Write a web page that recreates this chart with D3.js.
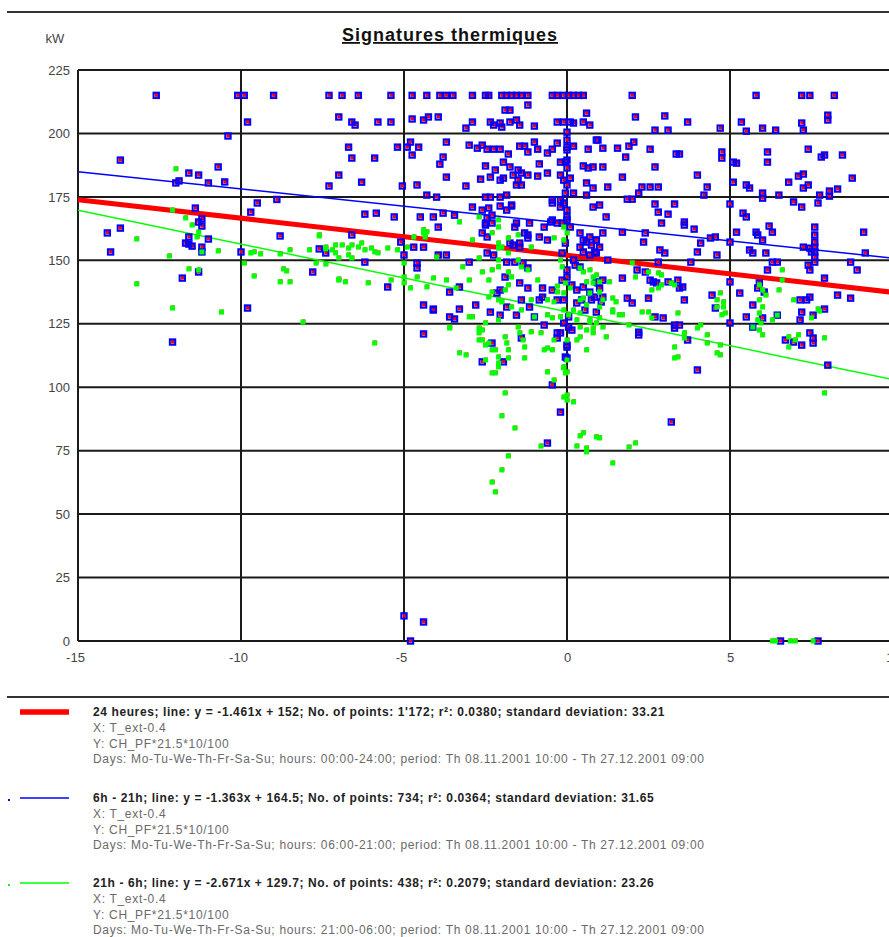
<!DOCTYPE html>
<html lang="fr">
<head>
<meta charset="utf-8">
<title>Signatures thermiques</title>
<script src="https://cdn.jsdelivr.net/npm/d3@7/dist/d3.min.js"></script>
<style>
  body { margin: 0; background: #fff; }
  text { font-family: "Liberation Sans", Arial, sans-serif; }
</style>
</head>
<body>
<svg id="chart" width="889" height="937"></svg>
<script>
// ---- data ----
var xTicks = [-15, -10, -5, 0, 5, 10];
var yTicks = [0, 25, 50, 75, 100, 125, 150, 175, 200, 225];

// 6h - 21h, [T_ext, kW]
var dayPoints = [
  [-12.6,215],[-10.1,215],[-9.9,215],[-9.0,215],[-7.3,215],[-6.9,215],[-6.4,215],[-5.4,215],[-4.75,215],[-4.3,215],
  [-3.9,215],[-3.7,215],[-3.5,215],[-2.9,215],[-2.5,215],[-2.4,215],[-2.0,215],[-1.85,215],[-1.7,215],[-1.55,215],
  [-1.4,215],[-1.2,215],[-0.45,215],[-0.3,215],[-0.1,215],[0.05,215],[0.2,215],[0.35,215],[0.5,215],[2.0,215],
  [5.8,215],[7.2,215],[7.45,215],[8.2,215],
  [-1.2,211.2],[-1.9,209.2],[-1.75,209.2],[0.6,208],[-7.0,206.5],[-6.6,204.5],[-6.5,203.3],[-5.8,204.5],[-5.4,204.5],
  [-4.75,205.7],[-4.4,205.3],[-4.25,206.5],[-3.95,206.5],[-3.1,202.1],[-2.9,204.5],[-2.35,204.5],[-2.25,203.3],
  [-2.05,204.1],[-2.0,202.5],[-1.75,204.5],[-1.55,205.3],[-1.45,203.3],[-1.0,202.9],[-0.3,204.5],[-0.1,204.5],
  [0.1,204.5],[0.2,204.1],[0.5,204.5],[0.7,203.3],[0.0,200.5],
  [-6.7,194.6],[-5.2,194.6],[-4.9,194.6],[-4.8,196.6],[-4.55,194.6],[-3.7,196.6],[-3.0,195.4],[-2.75,194.2],
  [-2.6,195.4],[-2.45,193.8],[-2.25,193.8],[-2.05,193.8],[-1.8,191.9],[-1.45,195.0],[-1.3,195.0],[-1.2,192.7],
  [-1.0,196.6],[-0.9,193.8],[-0.6,192.3],[-0.45,193.8],[-0.3,196.2],[0.0,194.6],[0.2,195.0],[0.65,193.8],[0.9,197.4],
  [-6.6,190.3],[-5.9,190.3],[-4.75,191.5],[-3.8,190.7],[-3.9,187.9],[-2.5,187.2],[-2.2,185.6],[-1.95,188.7],
  [-1.75,186.8],[-1.5,185.6],[-1.4,184.4],[-1.2,183.6],[-0.85,188.0],[-0.6,184.4],[-0.2,188.7],[-0.05,188.7],
  [0.5,187.2],[0.65,186.4],[0.8,186.8],[-7.0,183.6],[-6.3,180.8],[-7.3,179.3],[-5.05,179.3],[-4.6,179.7],
  [-3.7,182.8],[-3.1,179.3],[-2.65,182.0],[-2.35,182.8],[-2.05,181.6],[-1.95,182.4],[-1.65,183.6],[-1.5,181.6],
  [-1.55,179.7],[-1.4,179.7],[-0.9,183.2],[-0.2,183.6],[-0.1,181.6],[0.1,182.4],[0.6,180.5],[0.8,178.5],
  [-4.3,175.7],[-4.0,174.9],[-2.5,174.9],[-2.35,174.9],[-2.05,174.9],[-1.85,175.7],[-0.45,173.8],[-0.2,173.8],
  [0.2,176.5],[0.6,175.7],[-6.2,168.2],[-5.85,168.6],[-5.3,167.1],[-4.5,167.1],[-4.1,167.1],[-3.8,168.6],
  [-3.45,167.8],[-2.9,171.0],[-2.6,169.8],[-2.4,170.6],[-2.5,164.7],[-2.3,164.7],[-2.05,171.4],[-1.7,171.4],
  [-1.55,164.7],[-1.15,164.7],[-2.6,160.8],[-2.45,159.2],[-1.75,156.8],[-1.45,156.8],[-1.2,160.0],[-0.45,172.6],
  [-0.2,171.0],[-0.45,165.9],[0.0,167.1],[0.1,163.1],[0.4,160.8],[0.6,157.2],[0.75,156.0],[0.9,158.0],
  [-6.6,160.0],[-5.1,157.2],[-4.7,155.2],[-3.95,163.1],
  [3.0,206.9],[2.1,206.5],[3.7,204.5],[2.7,201.3],[3.1,201.3],[4.7,202.1],[5.35,204.5],[5.5,200.9],[6.0,202.1],
  [6.4,201.3],[7.2,204.1],[7.25,201.3],[8.0,207.2],[8.0,205.3],[0.95,197.4],[1.1,194.2],[1.55,194.2],[1.9,195.0],
  [2.05,196.6],[2.55,193.8],[3.35,191.9],[3.45,191.9],[1.8,190.7],[4.75,192.7],[4.75,190.3],[5.1,188.7],[5.2,188.3],
  [6.15,192.7],[6.15,188.7],[7.4,193.8],[7.8,190.7],[7.9,191.5],[8.45,191.5],[1.1,186.8],[2.7,186.8],[1.7,182.8],
  [4.0,183.6],[5.1,180.8],[6.8,180.8],[7.1,183.2],[7.25,184.0],[8.75,182.4],[1.25,178.9],[2.3,178.9],[2.55,178.9],
  [2.8,178.9],[2.2,176.5],[4.3,178.9],[4.2,175.7],[5.5,179.7],[5.6,178.5],[6.0,176.5],[6.0,174.5],[6.5,175.7],
  [7.25,178.5],[7.4,179.7],[7.75,175.7],[8.05,177.3],[8.05,175.3],[8.3,178.1],[6.95,173.0],[7.2,171.0],[7.7,172.6],
  [1.85,174.1],[2.0,174.1],[2.7,172.2],[3.3,172.2],[2.8,169.0],[3.1,168.2],[1.2,167.1],[5.4,168.6],[5.5,167.1],
  [5.0,172.2],[0.8,171.0],[1.0,171.8],[2.9,164.7],[3.6,165.1],[3.6,163.9],[3.9,162.3],[5.2,161.1],[5.8,161.1],
  [5.85,160.0],[6.0,158.0],[6.2,163.5],[6.3,161.1],[7.6,163.1],[7.6,160.0],[7.6,157.2],[7.6,155.2],[7.5,153.3],
  [9.1,161.1],[2.35,157.2],[2.85,154.1],[3.0,152.9],[4.1,156.8],[4.55,159.2],[4.4,158.8],[5.0,157.2],[5.6,154.1],
  [5.7,152.9],[6.1,152.9],[7.25,155.2],[7.45,154.8],[7.6,153.3],[4.0,153.3],[0.85,153.3],[1.1,160.8],[1.7,161.1],
  [9.15,152.9],[4.6,152.1],[7.6,151.3],[7.6,149.3],[2.4,160.8],[1.25,150.1],[3.8,149.3],[2.8,149.3],
  [5.0,141.5],[5.3,137.1],[5.9,141.1],[5.85,139.1],[6.05,137.5],[6.15,146.2],[6.3,149.3],[6.45,149.3],[7.4,148.1],
  [7.45,146.2],[8.7,149.3],[8.9,146.2],[7.9,143.0],[8.3,136.3],[8.7,135.1],[7.45,135.5],[7.15,134.4],[7.35,134.4],
  [7.9,130.8],[7.55,128.4],[7.2,129.6],[7.15,126.5],[6.45,128.4],[5.7,132.4],[5.5,127.7],[6.0,127.3],[5.7,123.7],
  [7.45,121.4],[7.55,119.4],[7.55,117.4],[7.2,116.6],[6.95,117.8],[6.7,118.6],[4.0,106.8],[8.0,108.7],[4.45,136.3],
  [4.55,131.2],[5.0,125.3],[3.6,134.4],[3.7,118.6],[2.2,121.7],[2.2,120.6],[2.0,133.2],[1.85,135.1],[2.5,135.1],
  [2.7,127.7],[2.95,127.3],[3.45,124.5],[2.55,142.2],[2.65,141.5],[2.75,141.1],[2.4,145.4],[2.15,146.2],[3.1,141.5],
  [3.4,142.2],[3.55,139.5],[3.45,139.1],[1.7,143.0],[0.9,141.5],[1.0,139.1],[1.1,135.5],[3.3,124.5],[3.3,123.3],
  [-0.05,156.8],[-0.15,152.9],[0.0,146.2],[-0.15,142.2],[-0.1,134.4],[0.05,127.7],[-0.1,125.3],[0.0,116.6],
  [-0.05,111.9],[0.0,169.8],[-0.1,172.6],[0.0,165.9],[-0.15,164.7],[0.0,179.7],[-0.05,176.5],[0.0,189.5],
  [0.0,197.4],[0.0,193.5],[0.0,186.4],
  [0.5,158.0],[0.7,159.2],[0.9,158.0],[1.0,155.2],[0.9,152.9],[0.7,152.1],[0.5,153.3],[0.4,155.2],
  [0.2,150.1],[0.25,148.1],[0.4,147.4],[0.0,143.4],[0.15,140.3],[0.3,138.3],[0.5,139.5],[0.7,137.5],[0.85,135.5],
  [0.95,141.1],[1.1,142.2],[0.3,133.2],[0.45,134.4],[0.75,134.4],[1.05,133.6],[0.55,130.4],[0.9,129.6],
  [-6.2,149.3],[-5.5,139.5],[-5.0,152.1],[-4.6,148.9],[-4.6,147.0],[-4.4,155.2],[-3.95,152.1],[-3.7,152.1],
  [-4.4,132.4],[-4.1,130.8],[-3.3,130.8],[-3.6,127.7],[-3.45,126.9],[-4.4,121.0],[-3.0,149.3],[-3.6,137.5],
  [-3.3,139.5],[-2.8,132.4],[-2.35,129.6],[-2.45,152.9],[-2.25,152.1],[-2.5,163.9],[-2.45,166.7],[-2.3,167.8],
  [-1.85,169.8],[-1.7,171.8],[-1.6,163.1],[-1.3,160.8],[-1.2,158.8],[-1.65,156.0],[-1.45,155.2],[-1.85,149.3],
  [-1.6,149.3],[-1.35,148.9],[-1.2,147.0],[-1.9,143.4],[-1.45,141.1],[-1.2,139.1],[-2.05,138.3],[-2.15,137.1],
  [-1.85,131.6],[-1.4,134.4],[-1.15,131.6],[-2.05,128.4],[-1.55,128.4],[-1.0,127.7],[-0.75,135.5],[-0.85,134.4],
  [-0.75,139.1],[-0.45,138.3],[-0.3,134.4],[-0.3,121.4],[-0.3,119.4],[-0.7,124.5],[-2.3,117.4],[-2.6,110.0],
  [-1.95,110.0],[-1.4,119.4],[-0.7,163.1],[-0.5,165.1],[-0.3,164.7],[-0.85,159.2],[-0.6,158.0],[-0.2,121.4],
  [0.05,123.7],[0.15,122.5],[0.0,115.8],[0.0,111.5],[-4.1,130.4],[-0.45,100.9],[-0.2,90.2],[-0.6,78.0],[3.2,86.3],
  [-5.0,9.9],[-4.4,7.5],[-4.8,0],[6.55,0],[7.7,0],
  [-13.7,189.5],[-11.6,184.4],[-11.3,183.6],[-10.7,186.8],[-10.5,180.9],[-11.0,180.5],[-12.0,180.5],[-11.9,181.3],
  [-11.4,170.6],[-11.2,166.3],[-11.3,165.1],[-11.2,163.5],[-13.7,162.7],[-14.1,160.8],[-11.0,158.4],[-11.6,159.2],
  [-11.7,156.8],[-11.6,156.4],[-11.5,155.6],[-11.2,155.2],[-11.2,153.3],[-14.0,153.3],[-11.8,143.0],[-11.3,145.4],
  [-9.5,172.6],[-9.7,169.0],[-8.9,174.0],[-8.8,159.6],[-7.6,154.5],[-7.4,152.9],[-10.0,153.3],[-7.8,145.4],
  [-9.8,131.2],[-10.4,199.0],[-9.8,204.5],[-12.1,117.8]
];

// 21h - 6h, [T_ext, kW]
var nightPoints = [
  [-12.0,186],[-12.1,169.8],[-11.7,166.7],[-11.5,163.9],[-11.3,161.1],[-11.35,159.2],[-13.2,158.4],[-10.7,153.7],
  [-11.2,153.3],[-12.2,151.7],[-11.6,146.6],[-11.3,146.2],[-13.2,140.7],[-12.1,131.2],[-10.6,129.6],[-9.9,148.9],
  [-9.7,152.9],[-9.6,153.3],[-9.4,152.5],[-8.8,152.5],[-8.5,154.1],[-7.9,154.1],[-7.4,155.2],[-7.2,154.1],
  [-7.1,152.9],[-7.6,159.6],[-7.7,148.9],[-7.4,148.5],[-9.6,143.8],[-8.8,141.5],[-8.5,141.5],[-8.7,146.6],
  [-8.6,145.8],[-8.1,125.7],[-7.0,142.6],
  [-7.6,160],[-7.4,154.5],[-7.1,156],[-6.9,156],[-6.7,154.8],[-6.6,156],[-6.4,155.2],[-6.3,156.8],[-6.2,154.1],
  [-6.0,154.8],[-5.9,153.3],[-5.8,152.9],[-6.7,152.1],[-6.6,150.9],[-7.0,150.9],[-7.0,142.2],[-6.8,141.5],
  [-6.1,141.1],[-5.9,117.4],[-5.5,154.8],[-5.2,154.1],[-5.0,148.9],[-4.9,155.2],[-4.4,160.8],[-4.3,161.2],
  [-4.35,159.2],[-4.4,162],[-4.7,159.2],[-5.0,143.4],[-4.8,139.1],[-5.0,141.1],[-5.4,142.2],[-4.6,143.4],
  [-4.3,139.5],[-4.1,143],[-4.0,151.3],[-3.7,142.2],[-3.4,139.1],[-3.2,147.4],[-2.9,158],[-2.7,150.9],[-2.6,145.4],
  [-3.0,142.2],[-2.9,127.7],[-3.6,123.7],[-2.5,125.3],[-2.6,122.5],[-2.7,118.6],[-2.5,116.6],[-2.3,114.7],
  [-2.1,111.9],[-2.1,109.5],[-2.3,105.6],[-1.9,119.8],[-1.3,111.5],[-1.3,115.8],[-1.5,123.7],[-1.1,121.8],
  [-0.8,121.4],[-0.6,115.4],[-1.0,127.7],[-2.1,126.5],[-2.4,142.2],[-2.3,137.5],[-2.4,135.5],[-2.1,134.4],
  [-2.0,133.6],[-1.9,138.3],[-1.8,140.3],[-2.3,146.2],[-2.1,147.4],[-1.8,145.4],[-1.7,143.4],[-2.1,150.1],
  [-1.8,152.9],[-1.5,150.1],[-1.4,147.4],[-1.2,146.2],[-2.1,165.9],[-2.1,163.1],[-2.3,160.8],[-2.0,155.2],
  [-2.1,156.8],[-2.1,154.8],[-0.9,142.2],[-1.1,134.4],[-1.4,130.4],[-1.7,131.6],[-0.6,134.4],[-0.4,133.6],
  [-0.6,128.5],[-0.45,127.3],[-0.3,139.8],[-0.3,137.5],[-1.8,158.8],[-1.5,160],[-3.3,165.1],[-2.7,167.1],
  [-0.4,158.8],[-0.2,150.1],[-1.1,155.2],
  [-3.6,123.3],[-2.7,121.4],[-2.6,118.6],[-2.2,114.7],[-2.4,117.4],[-1.85,117.4],[-1.8,114.7],[-1.45,121.4],
  [-1.35,118.6],[-1.8,111.5],[-2.1,108],[-2.2,105.6],[-2.5,110.7],[-0.4,118.6],[0.0,118.6],[-0.1,107.6],[0.0,106],
  [-0.7,114.7],[-0.45,114.7],[-0.6,106],[-0.4,102.8],[0.9,80.4],[0.3,118.6],[0.4,119.8],[0.8,121.4],[0.6,114.7],
  [1.2,119.8],[1.0,127.3],[1.7,128.5],[1.4,129.6],[0.3,126.5],[0.7,125.7],[1.0,131.6],[1.1,134.4],[0.5,135.1],
  [-0.2,127.7],[-3.0,127.7],[-3.3,113.5],[-3.1,112.7],[-2.7,123.3],
  [-1.9,97.7],[-0.1,96.1],[0.0,94.9],[0.2,94.2],[0.0,96.9],[-2.0,88.7],[-1.6,83.9],[-0.8,76.8],[0.5,82],[0.4,80.8],
  [1.0,80],[0.3,76.8],[0.6,76],[0.6,74.5],[1.4,70.1],[1.9,76.4],[2.1,78],[-1.8,72.9],[-2.0,67.4],[-2.3,62.6],
  [-2.2,58.7],[7.9,97.7],[6.3,0],[6.4,0],[6.85,0],[7.0,0],[7.55,0],
  [-0.1,163.1],[0.0,160.8],[-0.1,158],[-0.15,147.4],[-0.05,141.1],[0.1,139.1],[-0.1,137.1],[-0.1,130.4],
  [0.05,128.5],[0.0,110.7],[-0.1,108],[-0.05,105.6],[0.4,147],[0.5,145.4],[0.7,146.2],[0.8,143.4],[0.9,144.2],
  [0.6,141.5],[0.8,141.1],[1.0,141.5],[0.7,137.1],[1.0,137.5],[0.4,134.4],[0.6,132.4],[0.2,130.4],[0.4,129.2],
  [1.4,130.4],[1.6,128.5],[0.7,126.5],[0.9,125.3],[1.1,123.7],[0.4,123.7],[0.6,122.5],[0.8,123.3],[1.3,141.5],
  [2.1,143.4],[2.6,138.3],[2.8,139.1],[2.9,140.3],[2.3,129.6],[2.5,129.6],[3.4,129.2],[1.9,124.5],[2.0,149],
  [2.5,145.4],[2.8,145],[2.9,144.2],[3.6,121.4],[4.0,123.3],[4.1,124.5],[4.7,137.1],[4.6,134.4],[4.8,133.6],
  [4.6,131.6],[4.8,131.6],[4.85,129.2],[4.75,128.5],[5.9,140.3],[6.0,138.3],[6.1,136.3],[5.9,134.4],[6.0,131.6],
  [5.9,129.2],[5.95,125.3],[5.9,122.5],[6.0,120.6],[5.85,126.5],[5.7,123.7],[6.45,128.4],[6.3,126.5],[6.6,146.2],
  [6.6,142.2],[6.5,138.3],[6.95,134.4],[7.5,127.3],[7.7,130.8],[7.75,130],[6.8,119.8],[7.0,118.6],[7.1,120.6],
  [7.9,119.4],[6.8,115.8],[3.3,115.8],[3.4,111.9],[3.3,111.5],[3.6,119.4],[4.3,120.6],[4.6,113.5],[4.7,112.7],
  [4.3,117.4],[4.7,116.6],[1.4,135.1],[1.5,133.6],[3.2,141.1],[3.3,140.3],[2.6,127.3]
];

// regression lines: y = slope * x + intercept
var seriesNames = ["24h", "day", "night"];
var slopes = [-1.461, -1.363, -2.671];
var intercepts = [152, 164.5, 129.7];
var seriesColors = ["#ff0000", "#0000ff", "#00ff00"];
var lineWidths = [5, 1.5, 1.5];

var legendTitles = [
  "24 heures; line: y = -1.461x + 152; No. of points: 1'172; r\u00b2: 0.0380; standard deviation: 33.21",
  "6h - 21h; line: y = -1.363x + 164.5; No. of points: 734; r\u00b2: 0.0364; standard deviation: 31.65",
  "21h - 6h; line: y = -2.671x + 129.7; No. of points: 438; r\u00b2: 0.2079; standard deviation: 23.26"
];
var legendHours = ["00:00-24:00", "06:00-21:00", "21:00-06:00"];

// ---- chart ----
var svg = d3.select("#chart");

var x = d3.scaleLinear().domain([-15, 10]).range([78, 893]);
var y = d3.scaleLinear().domain([0, 225]).range([641, 70]);

svg.append("line")
  .attr("x1", 7).attr("x2", 889).attr("y1", 12).attr("y2", 12)
  .attr("stroke", "#333").attr("stroke-width", 2);

svg.append("text")
  .attr("x", 450).attr("y", 41)
  .attr("text-anchor", "middle")
  .attr("font-size", "18px").attr("font-weight", "bold")
  .attr("letter-spacing", "1px")
  .attr("text-decoration", "underline")
  .attr("fill", "#111")
  .text("Signatures thermiques");

svg.append("text")
  .attr("x", 55).attr("y", 43)
  .attr("text-anchor", "middle")
  .attr("font-size", "13px").attr("fill", "#444")
  .text("kW");

// grid
var grid = svg.append("g").attr("stroke", "#1a1a1a").attr("stroke-width", 2);
grid.selectAll(".h").data(yTicks).enter().append("line")
  .attr("x1", x(-15)).attr("x2", x(10))
  .attr("y1", d => y(d)).attr("y2", d => y(d));
grid.selectAll(".v").data(xTicks).enter().append("line")
  .attr("x1", d => x(d)).attr("x2", d => x(d))
  .attr("y1", y(0)).attr("y2", y(225));

// axis labels (d3 axes without domain / tick marks)
var yAxis = svg.append("g")
  .attr("transform", "translate(" + (x(-15) - 8) + ",0)")
  .call(d3.axisLeft(y).tickValues(yTicks).tickSize(0).tickPadding(0));
var xAxis = svg.append("g")
  .attr("transform", "translate(0," + (y(0) + 12) + ")")
  .call(d3.axisBottom(x).tickValues(xTicks).tickSize(0).tickPadding(0).tickFormat(d => String(d)));
[yAxis, xAxis].forEach(function(a) {
  a.select(".domain").remove();
  a.selectAll("text")
    .attr("font-family", "Liberation Sans, Arial, sans-serif")
    .attr("font-size", "13px").attr("fill", "#444");
});
xAxis.selectAll("text").attr("dx", d => d < 0 ? -3 : 0);

// regression lines
svg.append("clipPath").attr("id", "plot-clip").append("rect")
  .attr("x", x(-15)).attr("y", y(225))
  .attr("width", x(10) - x(-15)).attr("height", y(0) - y(225));

var lineG = svg.append("g").attr("clip-path", "url(#plot-clip)");
var lineData = seriesNames.map(function(n, i) {
  return { name: n, pts: [-15, 10].map(t => [t, slopes[i] * t + intercepts[i]]), i: i };
});
var line = d3.line().x(d => x(d[0])).y(d => y(d[1]));
lineG.selectAll("path").data(lineData).enter().append("path")
  .attr("d", d => line(d.pts))
  .attr("fill", "none")
  .attr("stroke", d => seriesColors[d.i])
  .attr("stroke-width", d => lineWidths[d.i]);

// points: 24h series = every point, then 6h-21h and 21h-6h on top
var allPoints = dayPoints.concat(nightPoints);

svg.append("g").selectAll("rect").data(allPoints).enter().append("rect")
  .attr("x", d => x(d[0]) - 1.5).attr("y", d => y(d[1]) - 2.5)
  .attr("width", 4).attr("height", 4)
  .attr("fill", "#ff0000");

svg.append("g").selectAll("rect").data(dayPoints).enter().append("rect")
  .attr("x", d => x(d[0]) - 2.7).attr("y", d => y(d[1]) - 2.7)
  .attr("width", 5.4).attr("height", 5.4)
  .attr("fill", "none")
  .attr("stroke", "#0000ff").attr("stroke-width", 2);

svg.append("g").selectAll("rect").data(nightPoints).enter().append("rect")
  .attr("x", d => x(d[0]) - 2.5).attr("y", d => y(d[1]) - 2.5)
  .attr("width", 5).attr("height", 5)
  .attr("fill", "#00ff00");

// separator
svg.append("line")
  .attr("x1", 7).attr("x2", 889).attr("y1", 697).attr("y2", 697)
  .attr("stroke", "#333").attr("stroke-width", 2);

// legend
var legendTop = [712, 798, 883];
var legend = svg.selectAll(".legend").data(seriesNames).enter().append("g")
  .attr("class", "legend")
  .attr("transform", (d, i) => "translate(0," + legendTop[i] + ")");

legend.append("line")
  .attr("x1", 20).attr("x2", 69).attr("y1", 0).attr("y2", 0)
  .attr("stroke", (d, i) => seriesColors[i])
  .attr("stroke-width", (d, i) => lineWidths[i] + (i === 0 ? 0.5 : 0));

legend.filter((d, i) => i > 0).append("rect")
  .attr("x", 8).attr("y", 1).attr("width", 2).attr("height", 2)
  .attr("fill", (d, i) => seriesColors[i + 1]);

legend.append("text")
  .attr("x", 93).attr("y", 4)
  .attr("font-size", "12px").attr("font-weight", "bold").attr("fill", "#222")
  .attr("letter-spacing", "0.6px")
  .text((d, i) => legendTitles[i]);

var subLines = [
  () => "X: T_ext-0.4",
  () => "Y: CH_PF*21.5*10/100",
  (i) => "Days: Mo-Tu-We-Th-Fr-Sa-Su; hours: " + legendHours[i] + "; period: Th 08.11.2001 10:00 - Th 27.12.2001 09:00"
];
legend.each(function(d, i) {
  var g = d3.select(this);
  subLines.forEach(function(f, k) {
    g.append("text")
      .attr("x", 93).attr("y", 20 + k * 15.5)
      .attr("font-size", "12px").attr("fill", "#6a6a6a")
      .attr("letter-spacing", "0.68px")
      .text(f(i));
  });
});
</script>
</body>
</html>
